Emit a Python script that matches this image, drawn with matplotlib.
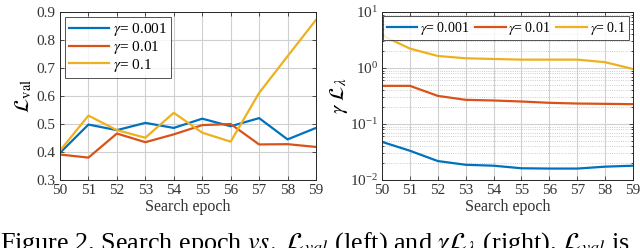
import matplotlib
matplotlib.use("Agg")
import matplotlib.pyplot as plt
from matplotlib.ticker import LogLocator, NullFormatter

plt.rcParams['font.family'] = ['Liberation Serif', 'DejaVu Serif']
plt.rcParams['mathtext.fontset'] = 'stix'

epochs = list(range(50, 60))
labels = [r'$\gamma$= 0.001', r'$\gamma$= 0.01', r'$\gamma$= 0.1']
colors = ['#0072BD', '#D95319', '#EDB120']

val_g001 = [0.397, 0.498, 0.478, 0.504, 0.486, 0.519, 0.492, 0.521, 0.445, 0.486]
val_g01 = [0.391, 0.380, 0.466, 0.435, 0.463, 0.496, 0.500, 0.427, 0.428, 0.418]
val_g1 = [0.405, 0.530, 0.478, 0.451, 0.540, 0.469, 0.437, 0.611, 0.742, 0.872]

lam_g001 = [0.048, 0.0333, 0.0218, 0.0187, 0.0180, 0.0162, 0.0160, 0.0160, 0.0173, 0.0180]
lam_g01 = [0.48, 0.48, 0.318, 0.270, 0.263, 0.252, 0.239, 0.232, 0.229, 0.226]
lam_g1 = [3.84, 2.22, 1.64, 1.49, 1.45, 1.41, 1.41, 1.41, 1.27, 0.96]

fig = plt.figure(figsize=(6.4, 2.48), dpi=100)
W, H = 640, 248
ax1 = fig.add_axes([60 / W, 1 - 180 / H, 256 / W, 168 / H])
ax2 = fig.add_axes([382 / W, 1 - 180 / H, 251 / W, 168 / H])

for ax in (ax1, ax2):
    ax.set_xlim(50, 59)
    ax.set_xticks(epochs)
    ax.tick_params(direction='in', labelsize=11, length=3, width=0.6,
                   colors='#333333', top=True, right=True, pad=3)
    ax.tick_params(which='minor', direction='in', length=1.5, width=0.5,
                   top=True, right=True)
    for s in ax.spines.values():
        s.set_color('#262626')
        s.set_linewidth(0.7)
    ax.set_xlabel('Search epoch', fontsize=11.5, labelpad=1, color='#333333')
    ax.grid(True, which='major', color='#d0d0d0', linewidth=0.8)
    ax.set_axisbelow(True)

for y, c, l in zip([val_g001, val_g01, val_g1], colors, labels):
    ax1.plot(epochs, y, color=c, lw=1.6, label=l)
ax1.set_ylim(0.3, 0.9)
ax1.set_yticks([0.3, 0.4, 0.5, 0.6, 0.7, 0.8, 0.9])
ax1.set_ylabel(r'$\mathcal{L}_{\mathrm{val}}$', fontsize=15, labelpad=2)
leg1 = ax1.legend(loc='upper left', fontsize=11, frameon=True, fancybox=False,
                  edgecolor='#262626', handlelength=2.6, handletextpad=0.3,
                  borderpad=0.25, labelspacing=0.05, borderaxespad=0.35)
leg1.get_frame().set_linewidth(0.7)

for y, c, l in zip([lam_g001, lam_g01, lam_g1], colors, labels):
    ax2.plot(epochs, y, color=c, lw=1.6, label=l)
ax2.set_yscale('log')
ax2.set_ylim(1e-2, 1e1)
ax2.yaxis.set_major_locator(LogLocator(base=10, numticks=10))
ax2.yaxis.set_minor_locator(LogLocator(base=10, subs=range(2, 10), numticks=20))
ax2.yaxis.set_minor_formatter(NullFormatter())
ax2.grid(True, which='minor', axis='y', color='#bdbdbd', linewidth=0.6, linestyle=':')
ax2.set_ylabel(r'$\gamma\ \mathcal{L}_{\lambda}$', fontsize=15, labelpad=0)
leg2 = ax2.legend(loc='upper right', ncol=3, fontsize=10, frameon=True, fancybox=False,
                  edgecolor='#262626', handlelength=2.2, handletextpad=0.2,
                  columnspacing=0.4, borderpad=0.25, borderaxespad=0.3)
leg2.get_frame().set_linewidth(0.7)

fig.text(0.0, -0.01, r'Figure 2. Search epoch $vs.$ $\mathcal{L}_{val}$ (left) and $\gamma\mathcal{L}_\lambda$ (right). $\mathcal{L}_{val}$ is',
         fontsize=18.8, ha='left', va='baseline', color='black')

fig.savefig('out.png', dpi=100)
